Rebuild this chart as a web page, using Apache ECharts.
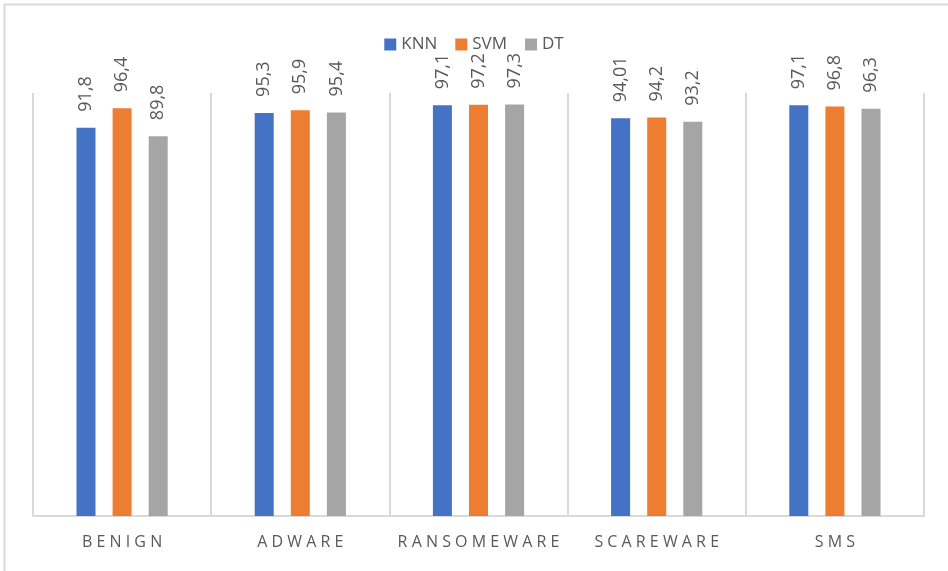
<!DOCTYPE html>
<html>
<head>
<meta charset="utf-8">
<script src="https://cdn.jsdelivr.net/npm/echarts@6/dist/echarts.min.js"></script>
<style>
  html, body { margin: 0; padding: 0; background: #fff; }
  #chart { width: 948px; height: 571px; }
</style>
</head>
<body>
<div id="chart"></div>
<script>
const categories = ['BENIGN', 'ADWARE', 'RANSOMEWARE', 'SCAREWARE', 'SMS'];
const knnValues = [91.8, 95.3, 97.1, 94.01, 97.1];
const svmValues = [96.4, 95.9, 97.2, 94.2, 96.8];
const dtValues = [89.8, 95.4, 97.3, 93.2, 96.3];

const textGray = '#595959';
const lineGray = '#d9d9d9';

// etiqueta con coma decimal
const commaLabel = (p) => String(p.value).replace('.', ',');

const makeSeries = (name, data) => ({
    name: name,
    type: 'bar',
    data: data,
    barWidth: 19,
    barGap: '90%',
    label: {
        show: true,
        position: 'top',
        rotate: 90,
        align: 'left',
        verticalAlign: 'middle',
        distance: 16,
        color: textGray,
        fontSize: 18,
        fontFamily: 'Open Sans',
        formatter: commaLabel
    }
});

const myChart = echarts.init(document.getElementById('chart'));
myChart.setOption({
    animation: false,
    color: ['#4472c4', '#ed7d31', '#a5a5a5'],
    graphic: [{
        type: 'rect',
        shape: { x: 4.5, y: 4.5, width: 1000, height: 1000 },
        style: { fill: 'none', stroke: lineGray, lineWidth: 2 }
    }],
    legend: {
        top: 31,
        left: 'center',
        icon: 'rect',
        itemWidth: 12,
        itemHeight: 12,
        itemGap: 18,
        textStyle: { color: textGray, fontSize: 17, fontFamily: 'Open Sans' },
        data: ['KNN', 'SVM', 'DT']
    },
    grid: {
        left: 33,
        right: 24,
        top: 93,
        bottom: 55
    },
    xAxis: {
        type: 'category',
        data: categories,
        axisLine: { show: true, lineStyle: { color: lineGray, width: 2 } },
        axisTick: { show: false },
        splitLine: { show: true, lineStyle: { color: lineGray, width: 2 } },
        axisLabel: {
            interval: 0,
            color: textGray,
            fontSize: 16,
            fontFamily: 'Open Sans',
            margin: 18,
            formatter: (v) => v.split('').join(' ')
        }
    },
    yAxis: {
        type: 'value',
        min: 0,
        max: 100,
        show: false
    },
    series: [
        makeSeries('KNN', knnValues),
        makeSeries('SVM', svmValues),
        makeSeries('DT', dtValues)
    ]
});
</script>
</body>
</html>
